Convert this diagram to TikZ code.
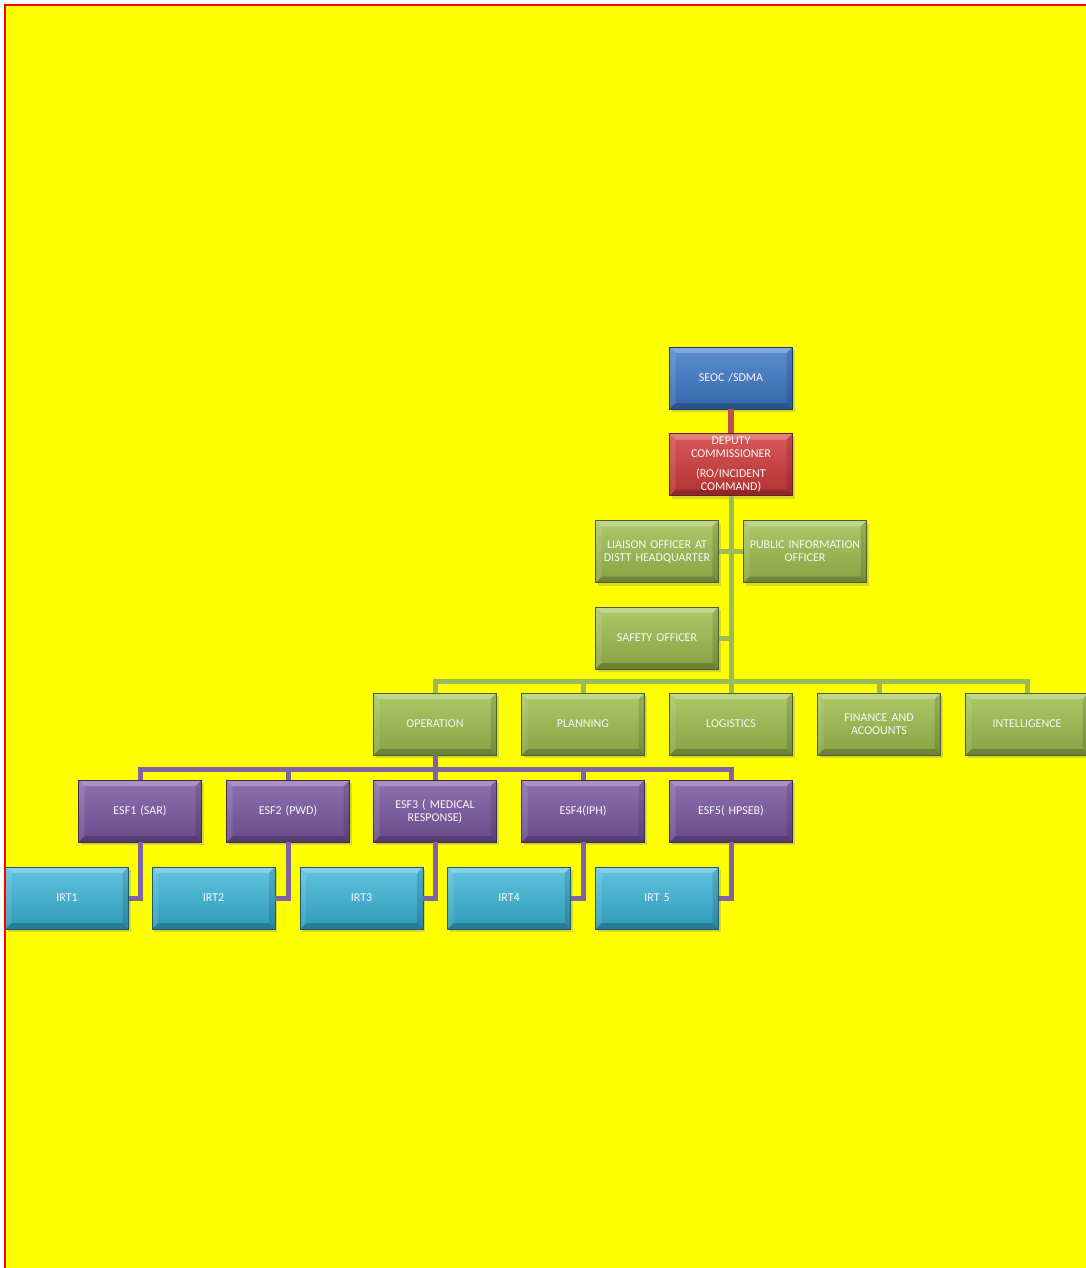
\documentclass[tikz,border=0pt]{standalone}
\usepackage{fontspec}
\setmainfont{Carlito}
\usetikzlibrary{shadows}

\definecolor{pageyellow}{RGB}{255,255,0}
\definecolor{borderred}{RGB}{255,0,0}
\definecolor{seocblue}{HTML}{3D7AC9}
\definecolor{dcred}{HTML}{D23A3A}
\definecolor{offgreen}{HTML}{9EBF4E}
\definecolor{esfpurple}{HTML}{7B58A4}
\definecolor{irtcyan}{HTML}{38B5D8}
\definecolor{greenline}{HTML}{9BBB59}
\definecolor{purpleline}{HTML}{8064A2}
\definecolor{redline}{HTML}{C0504D}

\tikzset{
  bevel/.style={path picture={
    \fill[white,opacity=.25] (path picture bounding box.north west) -- (path picture bounding box.north east)
      -- ([shift={(-6pt,-6pt)}]path picture bounding box.north east) -- ([shift={(6pt,-6pt)}]path picture bounding box.north west) -- cycle;
    \fill[black,opacity=.2] (path picture bounding box.south west) -- (path picture bounding box.south east)
      -- ([shift={(-6pt,6pt)}]path picture bounding box.south east) -- ([shift={(6pt,6pt)}]path picture bounding box.south west) -- cycle;
    \fill[white,opacity=.1] (path picture bounding box.north west) -- (path picture bounding box.south west)
      -- ([shift={(6pt,6pt)}]path picture bounding box.south west) -- ([shift={(6pt,-6pt)}]path picture bounding box.north west) -- cycle;
    \fill[black,opacity=.12] (path picture bounding box.north east) -- (path picture bounding box.south east)
      -- ([shift={(-6pt,6pt)}]path picture bounding box.south east) -- ([shift={(-6pt,-6pt)}]path picture bounding box.north east) -- cycle;
  }},
  box/.style={rectangle, minimum width=123pt, minimum height=62pt, inner sep=1pt, text width=119pt, align=center,
    font=\fontsize{12}{13}\selectfont, text=white!94!gray, bevel,
    drop shadow={shadow xshift=2pt, shadow yshift=-3pt, opacity=.3}},
  bluebox/.style={box, top color=seocblue!85!white, bottom color=seocblue!85!black, draw=seocblue!50!black},
  redbox/.style={box, top color=dcred!85!white, bottom color=dcred!85!black, draw=dcred!50!black},
  greenbox/.style={box, top color=offgreen!85!white, bottom color=offgreen!85!black, draw=offgreen!50!black},
  purplebox/.style={box, top color=esfpurple!85!white, bottom color=esfpurple!85!black, draw=esfpurple!50!black},
  cyanbox/.style={box, top color=irtcyan!80!white, bottom color=irtcyan!85!black, draw=irtcyan!50!black},
  link/.style={line width=5pt}
}

\begin{document}
\begin{tikzpicture}[x=1pt, y=-1pt]
  \useasboundingbox (0,0) rectangle (1086,1268);
  \fill[white] (0,0) rectangle (1086,1268);
  \fill[pageyellow] (5,6) rectangle (1086,1268);
  \draw[borderred, line width=2pt] (4.5,1268) -- (4.5,5.5) -- (1086,5.5);

  \node[bluebox] (seoc) at (731,378) {SEOC /SDMA};
  \node[redbox] (dc) at (731,464.5) {DEPUTY\\COMMISSIONER\\[7pt](RO/INCIDENT\\COMMAND)};
  \node[greenbox] (liaison) at (657,551.5) {LIAISON OFFICER AT\\DISTT HEADQUARTER};
  \node[greenbox] (pio) at (805,551.5) {PUBLIC INFORMATION\\OFFICER};
  \node[greenbox] (safety) at (657,638) {SAFETY OFFICER};

  \node[greenbox] (opn) at (435,724) {OPERATION};
  \node[greenbox] (plan) at (583,724) {PLANNING};
  \node[greenbox] (logi) at (731,724) {LOGISTICS};
  \node[greenbox] (fin) at (879,724) {FINANCE AND\\ACOOUNTS};
  \node[greenbox] (intel) at (1027,724) {INTELLIGENCE};

  \node[purplebox] (esf1) at (140,811) {ESF1 (SAR)};
  \node[purplebox] (esf2) at (288,811) {ESF2 (PWD)};
  \node[purplebox] (esf3) at (435,811) {ESF3 ( MEDICAL\\RESPONSE)};
  \node[purplebox] (esf4) at (583,811) {ESF4(IPH)};
  \node[purplebox] (esf5) at (731,811) {ESF5( HPSEB)};

  \node[cyanbox] (irt1) at (67,898) {IRT1};
  \node[cyanbox] (irt2) at (213.5,898) {IRT2};
  \node[cyanbox] (irt3) at (361.5,898) {IRT3};
  \node[cyanbox] (irt4) at (509,898) {IRT4};
  \node[cyanbox] (irt5) at (657,898) {IRT 5};

  % command line
  \draw[link, redline, line width=6pt] (seoc.south) -- (dc.north);
  \draw[link, greenline] (dc.south) -- ++(0,186) -| (logi.north);
  \draw[link, greenline] (liaison.east) -- (liaison.east -| dc.south);
  \draw[link, greenline] (pio.west) -- (pio.west -| dc.south);
  \draw[link, greenline] (safety.east) -- (safety.east -| dc.south);
  \foreach \s in {opn,plan,fin,intel}
    \draw[link, greenline] (dc.south) -- ++(0,186) -| (\s.north);

  % operation branches
  \foreach \s in {esf1,esf2,esf3,esf4,esf5}
    \draw[link, purpleline] (opn.south) -- ++(0,14) -| (\s.north);
  \foreach \s/\t in {esf1/irt1,esf2/irt2,esf3/irt3,esf4/irt4,esf5/irt5}
    \draw[link, purpleline] (\s.south) |- (\t.east);
\end{tikzpicture}
\end{document}
